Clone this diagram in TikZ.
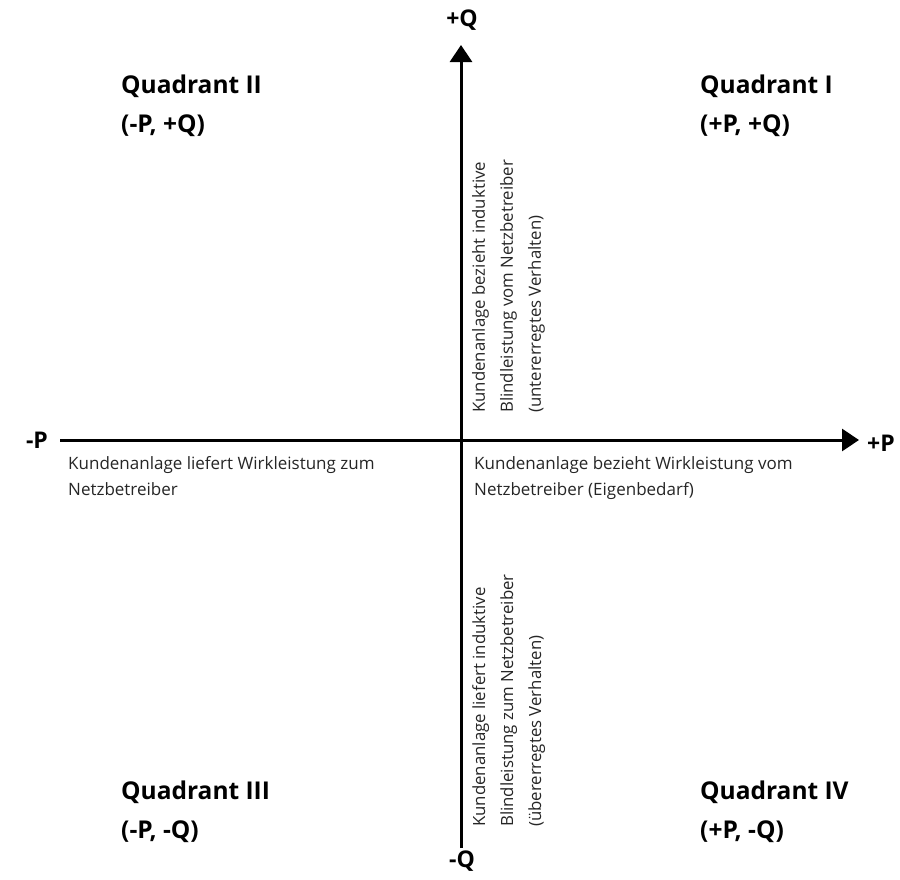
\documentclass[tikz,border=0pt]{standalone}
\usepackage{fontspec}
\setmainfont{Open Sans}
\usetikzlibrary{arrows.meta}
\begin{document}
\begin{tikzpicture}[x=1pt,y=-1pt,
  axis/.style={line width=3pt,-{Triangle[length=17pt,width=22pt]}},
  big/.style={font=\fontsize{23}{26}\selectfont\bfseries,text=black,inner sep=0pt},
  quad/.style={font=\fontsize{24.5}{39}\selectfont\bfseries,text=black,inner sep=0pt,align=left,anchor=north west},
  small/.style={font=\fontsize{17}{26.5}\selectfont,text=black!85,inner sep=0pt,align=left,anchor=north west},
  vsmall/.style={font=\fontsize{16.8}{28}\selectfont,text=black!85,inner sep=0pt,align=left,anchor=north west,rotate=90}]
\useasboundingbox (0,0) rectangle (900,879);
\fill[white] (0,0) rectangle (900,879);
% axes
\coordinate (qbot) at (461,848);
\coordinate (qtop) at (461,45);
\coordinate (pleft) at (60,440);
\coordinate (pright) at (859,440);
\draw[axis] (qbot) -- (qtop);
\draw[axis] (pleft) -- (pright);
% axis labels
\node[big] (lq) at (462,20) {+Q};
\node[big] (lmq) at (462,861) {-Q};
\node[big] (lmp) at (37,440) {-P};
\node[big] (lp) at (881,443) {+P};
% quadrants
\node[quad] (q2) at (121,75) {Quadrant II\\(-P, +Q)};
\node[quad] (q1) at (700,75) {Quadrant I\\(+P, +Q)};
\node[quad] (q3) at (121,781) {Quadrant III\\(-P, -Q)};
\node[quad] (q4) at (700,781) {Quadrant IV\\(+P, -Q)};
% horizontal texts
\node[small] (tl) at (68,456) {Kundenanlage liefert Wirkleistung zum\\Netzbetreiber};
\node[small] (tr) at (474,456) {Kundenanlage bezieht Wirkleistung vom\\Netzbetreiber (Eigenbedarf)};
% vertical texts
\node[vsmall] (vt) at (472,413) {Kundenanlage bezieht induktive\\Blindleistung vom Netzbetreiber\\(untererregtes Verhalten)};
\node[vsmall] (vb) at (472,827) {Kundenanlage liefert induktive\\Blindleistung zum Netzbetreiber\\(übererregtes Verhalten)};
\end{tikzpicture}
\end{document}
